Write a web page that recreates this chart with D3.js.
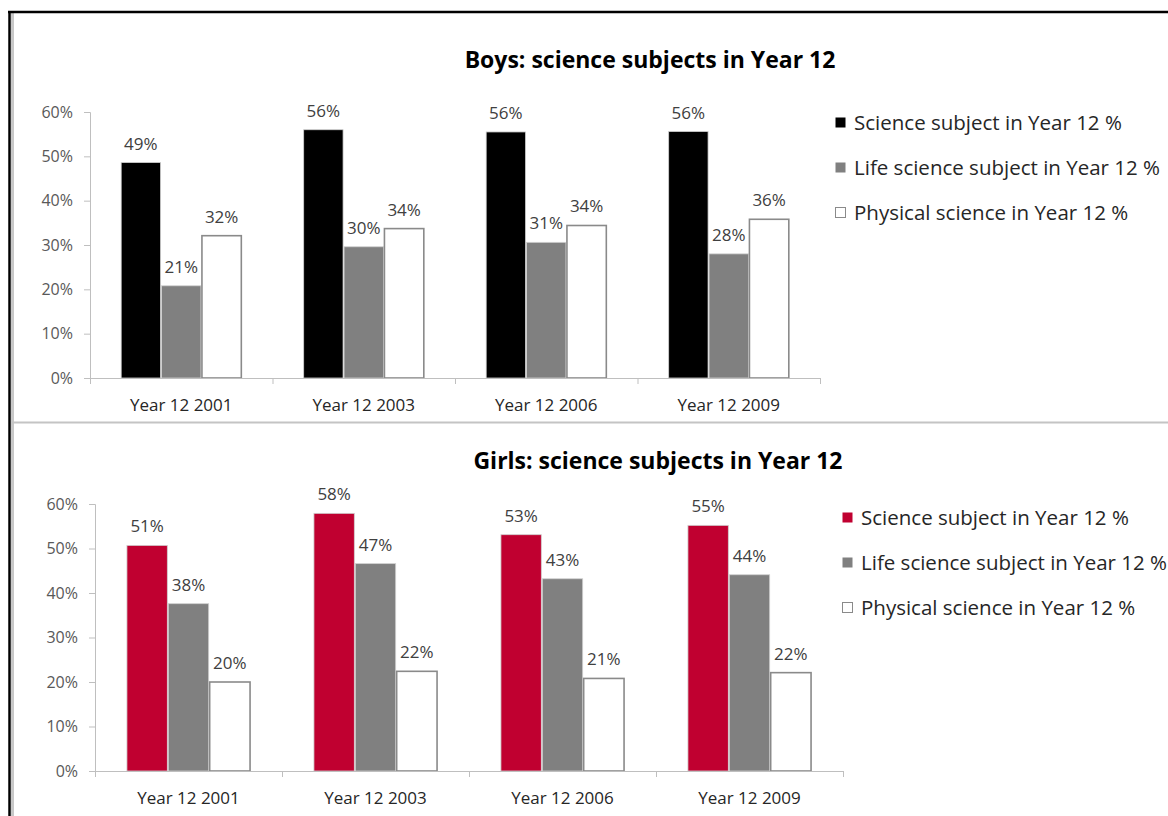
<!DOCTYPE html>
<html>
<head>
<meta charset="utf-8">
<script src="https://cdn.jsdelivr.net/npm/d3@7"></script>
<style>
  html, body { margin: 0; padding: 0; background: #fff; }
  svg { display: block; font-family: "Open Sans", Lato, sans-serif; }
  .tick text { fill: #595959; }
</style>
</head>
<body>
<div id="chart"></div>
<script>
// ---- data (percent) ----
const years = ["Year 12 2001", "Year 12 2003", "Year 12 2006", "Year 12 2009"];
const seriesNames = [
  "Science subject in Year 12 %",
  "Life science subject in Year 12 %",
  "Physical science in Year 12 %"
];
const yTicks = [0, 10, 20, 30, 40, 50, 60];

const boysScience  = [48.6, 56.0, 55.5, 55.6];
const boysLife     = [20.8, 29.6, 30.6, 28.0];
const boysPhysical = [32.1, 33.7, 34.4, 35.8];

const girlsScience  = [50.7, 57.9, 53.1, 55.2];
const girlsLife     = [37.6, 46.6, 43.2, 44.1];
const girlsPhysical = [20.0, 22.4, 20.8, 22.1];

const W = 1168, H = 816;
const svg = d3.select("#chart").append("svg")
  .attr("width", W).attr("height", H);

// outer frame + divider
svg.append("rect").attr("x", 11).attr("y", 13).attr("width", 3).attr("height", H).attr("fill", "#c8c8c8");
svg.append("line").attr("x1", 12).attr("x2", W).attr("y1", 422.5).attr("y2", 422.5)
  .attr("stroke", "#c4c4c4").attr("stroke-width", 2);
svg.append("line").attr("x1", 8).attr("x2", W).attr("y1", 12).attr("y2", 12)
  .attr("stroke", "#000").attr("stroke-width", 2.5);
svg.append("line").attr("x1", 9.5).attr("x2", 9.5).attr("y1", 11).attr("y2", H)
  .attr("stroke", "#000").attr("stroke-width", 2.5);

function drawPanel(p) {
  const g = svg.append("g");
  const x = d3.scaleBand().domain(years).range([p.x0, p.x1]);
  const xs = d3.scaleBand().domain(seriesNames).range([0, x.bandwidth()])
    .paddingInner(0).paddingOuter(0.76);
  const y = d3.scaleLinear().domain([0, 60]).range([p.y0, p.y1]);

  const rows = years.map((yr, i) => ({
    year: yr,
    vals: p.series.map((s, j) => ({ name: seriesNames[j], value: s[i], j }))
  }));

  // title
  g.append("text")
    .attr("x", p.titleX).attr("y", p.titleY)
    .attr("text-anchor", "middle")
    .style("font-size", "23px").style("font-weight", "700").style("fill", "#000")
    .text(p.title);

  // y axis
  const yAxis = g.append("g")
    .attr("transform", `translate(${p.x0},0)`)
    .call(d3.axisLeft(y).tickValues(yTicks).tickFormat(d => d + "%").tickSizeOuter(0).tickSize(6).tickPadding(11));
  yAxis.selectAll("path, line").attr("stroke", "#bfbfbf");
  yAxis.selectAll("text").style("font-size", "16px").style("font-family", "'Open Sans', sans-serif");

  // bars
  const grp = g.selectAll(".grp").data(rows).enter().append("g")
    .attr("transform", d => `translate(${x(d.year)},0)`);

  grp.selectAll("rect").data(d => d.vals).enter().append("rect")
    .attr("x", d => xs(d.name) + 0.5)
    .attr("y", d => y(d.value))
    .attr("width", xs.bandwidth() - 1)
    .attr("height", d => p.y0 - y(d.value))
    .attr("fill", d => p.colors[d.j])
    .attr("stroke", d => d.j === 2 ? "#8a8a8a" : "#d0d0d0")
    .attr("stroke-width", d => d.j === 2 ? 1.6 : 0.8);

  grp.selectAll(".bar-label").data(d => d.vals).enter().append("text")
    .attr("class", "bar-label")
    .attr("x", d => xs(d.name) + xs.bandwidth() / 2)
    .attr("y", d => y(d.value) - 13)
    .attr("text-anchor", "middle")
    .style("font-size", "17px").style("fill", "#404040")
    .text(d => Math.round(d.value) + "%");

  // x axis: line plus boundary ticks
  g.append("line")
    .attr("x1", p.x0).attr("x2", p.x1)
    .attr("y1", p.y0 + 0.5).attr("y2", p.y0 + 0.5)
    .attr("stroke", "#bfbfbf");
  g.selectAll(".xtick").data(years.map(d => x(d)).concat([p.x1])).enter().append("line")
    .attr("x1", d => d + 0.5).attr("x2", d => d + 0.5)
    .attr("y1", p.y0).attr("y2", p.y0 + 6)
    .attr("stroke", "#bfbfbf");
  g.selectAll(".xlab").data(years).enter().append("text")
    .attr("x", d => x(d) + x.bandwidth() / 2)
    .attr("y", p.y0 + 33)
    .attr("text-anchor", "middle")
    .style("font-size", "17px").style("fill", "#262626")
    .text(d => d);

  // legend
  const leg = g.selectAll(".leg").data(seriesNames).enter().append("g")
    .attr("transform", (d, i) => `translate(${p.legX},${p.legY + i * 45})`);
  leg.append("rect")
    .attr("x", 0.5).attr("y", -5.5).attr("width", 10).attr("height", 10)
    .attr("fill", (d, i) => p.colors[i])
    .attr("stroke", (d, i) => i === 2 ? "#8a8a8a" : "none");
  leg.append("text")
    .attr("x", 19).attr("y", 0).attr("dy", "0.35em")
    .style("font-size", "20.5px").style("fill", "#262626")
    .text(d => d);
}

drawPanel({
  title: "Boys: science subjects in Year 12", titleX: 650, titleY: 68,
  x0: 90, x1: 820, y0: 378, y1: 112,
  series: [boysScience, boysLife, boysPhysical],
  colors: ["#000000", "#808080", "#ffffff"],
  legX: 835, legY: 123
});

drawPanel({
  title: "Girls: science subjects in Year 12", titleX: 658, titleY: 469,
  x0: 95, x1: 843, y0: 771, y1: 504,
  series: [girlsScience, girlsLife, girlsPhysical],
  colors: ["#c00030", "#808080", "#ffffff"],
  legX: 842, legY: 518
});
</script>
</body>
</html>
